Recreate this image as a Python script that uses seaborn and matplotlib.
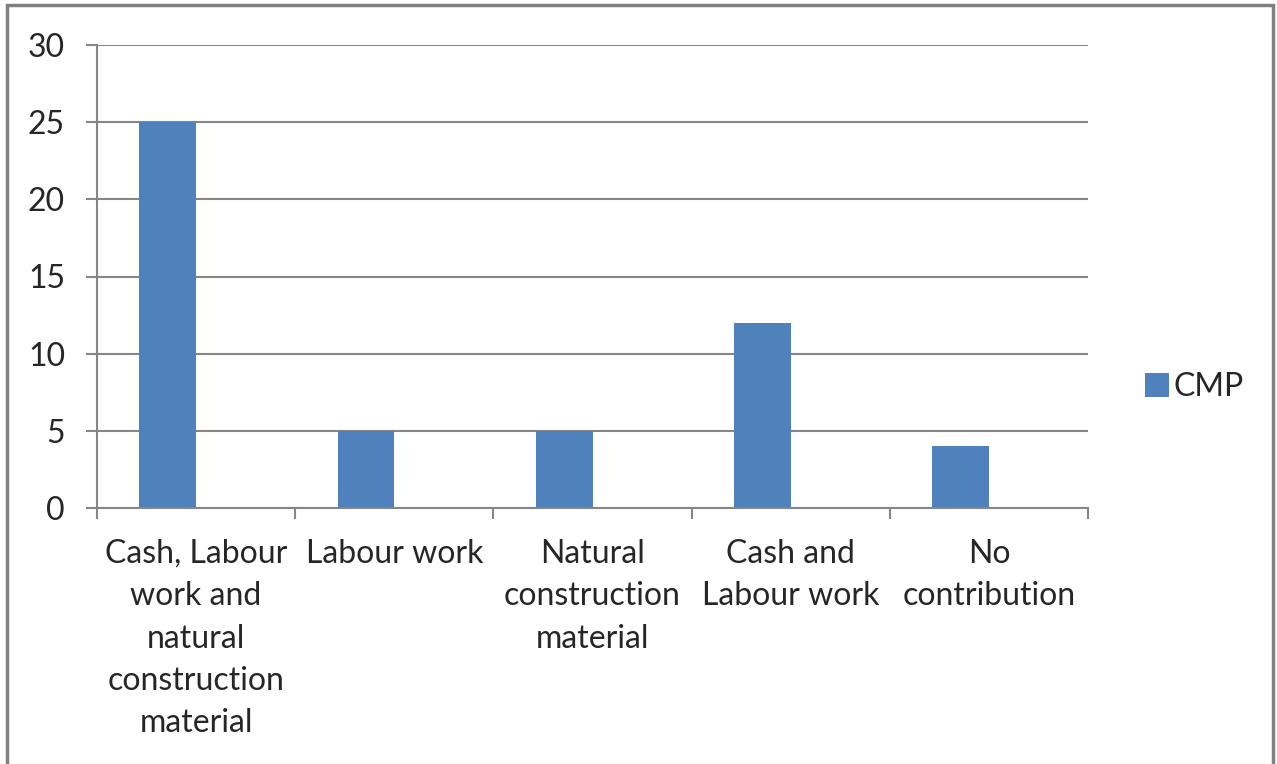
import matplotlib
matplotlib.use("Agg")
import matplotlib.pyplot as plt
from matplotlib.patches import Rectangle, Patch
from matplotlib.ticker import FixedLocator
import seaborn as sns
import pandas as pd

categories = [
    "Cash, Labour\nwork and\nnatural\nconstruction\nmaterial",
    "Labour work",
    "Natural\nconstruction\nmaterial",
    "Cash and\nLabour work",
    "No\ncontribution",
]
cmp_values = [25, 5, 5, 12, 4]
series_name = "CMP"
y_ticks = [0, 5, 10, 15, 20, 25, 30]

bar_color = "#4F81BD"
grid_color = "#868686"
text_color = "#262626"

sns.set_theme(style="white")
plt.rcParams["font.family"] = ["Lato", "DejaVu Sans"]

df = pd.DataFrame({"category": categories, "value": cmp_values})

fig = plt.figure(figsize=(12.77, 7.64), dpi=100)
ax = fig.add_axes([97 / 1277, 1 - 508 / 764, (1088 - 97) / 1277, (508 - 45) / 764])

# one series in a two-slot cluster (gap width 150%): each bar takes 1/3.5 of a
# category and sits in the left slot
bar_width = 1 / 3.5
sns.barplot(data=df, x="category", y="value", color=bar_color, width=bar_width,
            saturation=1, errorbar=None, ax=ax)
for patch in ax.patches:
    patch.set_x(patch.get_x() - bar_width / 2)
    patch.set_edgecolor("none")

ax.set_xlim(-0.5, len(categories) - 0.5)
ax.set_ylim(0, 30)
ax.set_yticks(y_ticks)
ax.set_xlabel("")
ax.set_ylabel("")

ax.yaxis.grid(True, color=grid_color, linewidth=1.5)
ax.set_axisbelow(True)
for side in ("top", "right"):
    ax.spines[side].set_visible(False)
for side in ("left", "bottom"):
    ax.spines[side].set_color(grid_color)
    ax.spines[side].set_linewidth(1.5)

ax.tick_params(axis="y", length=8, width=1.5, color=grid_color, direction="out",
               pad=15, labelsize=23, labelcolor=text_color, left=True)
ax.tick_params(axis="x", which="major", length=0, pad=22, labelsize=23,
               labelcolor=text_color)
ax.xaxis.set_minor_locator(FixedLocator([i - 0.5 for i in range(len(categories) + 1)]))
ax.tick_params(axis="x", which="minor", length=8, width=1.5, color=grid_color,
               direction="out", bottom=True)
for lbl in ax.get_xticklabels():
    lbl.set_linespacing(1.52)
    lbl.set_verticalalignment("top")

handle = Patch(facecolor=bar_color, edgecolor="none")
fig.legend([handle], [series_name], loc="center left",
           bbox_to_anchor=(1116 / 1277, 1 - 387 / 764), frameon=False,
           fontsize=23, handlelength=0.75, handleheight=0.75,
           handletextpad=0.15, labelcolor=text_color)

# chart area border
fig.add_artist(Rectangle((7 / 1277, -0.05), (1273 - 7) / 1277, 1.05 - 5 / 764,
                         transform=fig.transFigure, fill=False,
                         edgecolor="#808080", linewidth=2.5, clip_on=False))

fig.savefig("out.png", dpi=100, facecolor="white")
